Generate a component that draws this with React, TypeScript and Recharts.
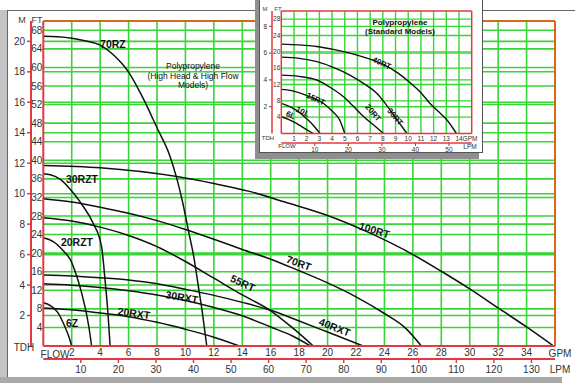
import React from 'react';
import {
  LineChart,
  Line,
  XAxis,
  YAxis,
  CartesianGrid,
  ReferenceLine,
  ReferenceDot,
} from 'recharts';

const FT_PER_M = 3.28084;
const LPM_PER_GPM = 3.78541;

const RED = '#e23a40';
const ORANGE = '#d8691c';
const GREEN = '#36d636';
const FONT = '"Liberation Sans", Arial, sans-serif';

// main chart axes
const gpmTicks = [2, 4, 6, 8, 10, 12, 14, 16, 18, 20, 22, 24, 26, 28, 30, 32, 34];
const lpmTicks = [10, 20, 30, 40, 50, 60, 70, 80, 90, 100, 110, 120, 130];
const ftTicks = [4, 8, 12, 16, 20, 24, 28, 32, 36, 40, 44, 48, 52, 56, 60, 64, 68];
const mTicks = [2, 4, 6, 8, 10, 12, 14, 16, 18, 20];

// main curves, [gpm, ft]
const rz70 = [[0, 66.7], [1, 66.6], [2, 66.3], [3, 65.7], [4, 64.8], [5, 62.5], [6, 59], [7, 53.5], [8, 47], [8.9, 41], [9.4, 36], [9.8, 31], [10.2, 25], [10.6, 19], [10.9, 13], [11.2, 7], [11.5, 0]];
const rt100 = [[0, 38.9], [4, 38.4], [9.4, 36.5], [12, 35], [14.5, 33.3], [17, 31], [20, 28.1], [23, 24.3], [26, 19.7], [28, 16.1], [30, 12.3], [32, 8.2], [34, 4.1], [35.9, 0]];
const rt70 = [[0, 31.7], [2, 31], [4, 29.9], [6, 28.6], [8, 27], [10, 25.1], [12, 23], [14, 20.8], [16, 18.7], [18, 16.2], [20, 13.6], [22, 10.6], [24, 7], [25.5, 3.8], [26.6, 0]];
const rt55 = [[0, 27.6], [2, 26.9], [4, 25.6], [6, 23.8], [8, 21.4], [10, 18.2], [12, 14.6], [14, 11], [15.9, 7.8], [17.5, 4], [19, 0]];
const rxt40 = [[0, 15.3], [2, 15.1], [4, 14.7], [6, 14.2], [8, 13.4], [10, 12.2], [12, 10.9], [14, 9.4], [16, 7.7], [18, 5.4], [20, 3], [22.5, 0]];
const rxt30 = [[0, 13.4], [2, 13.1], [4, 12.6], [6, 11.9], [8, 11], [10, 9.8], [12, 8.3], [14, 6.5], [16, 4.1], [17.5, 2.2], [18.8, 0]];
const rxt20 = [[0, 8.2], [2, 7.8], [4, 7.1], [6, 6.3], [8, 5.1], [10, 3.6], [12, 1.9], [13.8, 0]];
const rzt30 = [[0, 37.1], [0.5, 36.9], [1.2, 35.9], [2.1, 33], [2.8, 30.1], [3.5, 26.5], [4.1, 21.4], [4.35, 14], [4.55, 7], [4.7, 0]];
const rzt20 = [[0, 23.3], [0.7, 22.5], [1.5, 20.2], [1.9, 18.6], [2.3, 15.5], [2.7, 11.4], [3, 7.5], [3.2, 4.2], [3.4, 0]];
const z6 = [[0, 9.3], [0.5, 8.7], [1, 7.3], [1.5, 4.3], [1.8, 2], [2, 0]];

const mainCurves = [rz70, rt100, rt70, rt55, rxt40, rxt30, rxt20, rzt30, rzt20, z6];
const mainLabels = [
  { text: '70RZ', gpm: 4.9, ft: 65, angle: 0 },
  { text: '30RZT', gpm: 2.72, ft: 35.9, angle: 0 },
  { text: '20RZT', gpm: 2.37, ft: 22.3, angle: 0 },
  { text: '6Z', gpm: 2.02, ft: 5, angle: 0 },
  { text: '20RXT', gpm: 6.38, ft: 7.1, angle: 8 },
  { text: '30RXT', gpm: 9.75, ft: 10.6, angle: 10 },
  { text: '55RT', gpm: 14.04, ft: 13.6, angle: 25 },
  { text: '40RXT', gpm: 20.5, ft: 4.1, angle: 22 },
  { text: '70RT', gpm: 17.98, ft: 17.9, angle: 20 },
  { text: '100RT', gpm: 23.3, ft: 25, angle: 17 },
];

// inset (standard models)
const inGpmTicks = [1, 2, 3, 4, 5, 6, 7, 8, 9, 10, 11, 12, 13, 14];
const inLpmTicks = [10, 20, 30, 40, 50];
const inFtTicks = [4, 8, 12, 16, 20, 24, 28];
const inMTicks = [2, 4, 6, 8];

const rt40 = [[0, 21.9], [1.4, 21.7], [2.8, 21.3], [4.1, 20.6], [5.4, 19.7], [6.8, 18.4], [8.1, 16.8], [9.2, 14.8], [10.2, 12.3], [11, 10], [11.7, 7.4], [12.4, 5.3], [13.05, 3.3], [13.8, 0]];
const rt30 = [[0, 18.7], [1.4, 18.4], [2.8, 17.6], [4.1, 16.2], [5.4, 14.3], [6.5, 12.2], [7.5, 9.9], [8.2, 7.3], [8.85, 4.5], [9.9, 0]];
const rt20 = [[0, 14.3], [1.4, 14], [2.8, 13.1], [3.9, 11.2], [4.9, 9], [5.7, 6.6], [6.5, 4.1], [7.3, 2], [8.05, 0]];
const rt15 = [[0, 10.8], [0.8, 10.5], [1.5, 9.9], [2.4, 8.8], [3.3, 7.4], [4, 5.5], [4.6, 3.3], [5, 0]];
const l10 = [[0, 7.4], [0.8, 6.4], [1.5, 5], [2, 3.6], [2.5, 2.1], [3.05, 0]];
const l6 = [[0, 4.1], [0.6, 3.4], [1.2, 2.5], [1.8, 1.3], [2.5, 0]];

const insetCurves = [rt40, rt30, rt20, rt15, l10, l6];
const insetLabels = [
  { text: '40RT', gpm: 7.91, ft: 17.2, angle: 25 },
  { text: '30RT', gpm: 8.96, ft: 4.04, angle: 50 },
  { text: '20RT', gpm: 7.23, ft: 5.02, angle: 50 },
  { text: '15RT', gpm: 2.7, ft: 8.4, angle: 25 },
  { text: '10L', gpm: 1.68, ft: 5.3, angle: 25 },
  { text: '6L', gpm: 0.72, ft: 4.5, angle: 25 },
];

const toPts = (c: number[][]) => c.map(([gpm, ft]) => ({ gpm, ft }));
// span of the litre scale, so the LPM axis has something to measure
const lpmSpan = (maxGpm: number) => [
  { lpm: 0, ft: 0 },
  { lpm: maxGpm * LPM_PER_GPM, ft: 0 },
];

const curveLabel = (text: string, angle: number, size: number) => (p: any) => (
  <text
    x={p.cx}
    y={p.cy}
    transform={`rotate(${angle} ${p.cx} ${p.cy})`}
    textAnchor="middle"
    dominantBaseline="central"
    fontSize={size}
    fontWeight="bold"
    fontFamily={FONT}
    fill="#111"
  >
    {text}
  </text>
);

const tickStyle = (size: number) => ({ fontSize: size, fill: '#333', fontFamily: FONT });

function MainChart() {
  return (
    <LineChart
      width={575}
      height={383}
      margin={{ top: 21, right: 20, left: 0, bottom: 4 }}
      style={{ position: 'absolute', left: 0, top: 0 }}
    >
      <CartesianGrid xAxisId="gpm" yAxisId="ft" stroke={GREEN} strokeWidth={1.6} horizontalValues={ftTicks} verticalValues={gpmTicks} />
      <CartesianGrid xAxisId="gpm" yAxisId="m" stroke={GREEN} strokeWidth={1.6} vertical={false} horizontalValues={mTicks} />
      <XAxis
        xAxisId="gpm"
        dataKey="gpm"
        type="number"
        domain={[0, 36]}
        ticks={gpmTicks}
        interval={0}
        allowDataOverflow
        height={13}
        tickSize={0}
        tickMargin={3}
        tickLine={false}
        axisLine={{ stroke: RED, strokeWidth: 2 }}
        tick={tickStyle(10)}
      />
      <XAxis
        xAxisId="lpm"
        dataKey="lpm"
        type="number"
        domain={[0, 36 * LPM_PER_GPM]}
        ticks={lpmTicks}
        interval={0}
        allowDataOverflow
        height={20}
        tickSize={4}
        tickMargin={3}
        tickLine={{ stroke: RED, strokeWidth: 1.5 }}
        axisLine={{ stroke: RED, strokeWidth: 2 }}
        tick={tickStyle(10)}
      />
      <YAxis
        yAxisId="ft"
        type="number"
        domain={[0, 70]}
        ticks={ftTicks}
        interval={0}
        allowDataOverflow
        width={12.3}
        tickSize={0}
        tickMargin={1}
        tickLine={false}
        axisLine={{ stroke: RED, strokeWidth: 2 }}
        tick={tickStyle(10)}
      />
      <YAxis
        yAxisId="m"
        type="number"
        domain={[0, 70 / FT_PER_M]}
        ticks={mTicks}
        interval={0}
        allowDataOverflow
        width={31}
        tickSize={4}
        tickMargin={2}
        tickLine={{ stroke: RED, strokeWidth: 1.5 }}
        axisLine={{ stroke: RED, strokeWidth: 2 }}
        tick={tickStyle(10)}
      />
      <ReferenceLine xAxisId="gpm" yAxisId="ft" y={70} stroke={ORANGE} strokeWidth={2} />
      <ReferenceLine xAxisId="gpm" yAxisId="ft" x={36} stroke={ORANGE} strokeWidth={2} />
      <Line
        xAxisId="lpm"
        yAxisId="ft"
        data={lpmSpan(36)}
        dataKey="ft"
        stroke="none"
        dot={false}
        activeDot={false}
        legendType="none"
        isAnimationActive={false}
      />
      {mainCurves.map((c, i) => (
        <Line
          key={i}
          xAxisId="gpm"
          yAxisId="ft"
          data={toPts(c)}
          dataKey="ft"
          type="monotone"
          stroke="#111"
          strokeWidth={1.5}
          dot={false}
          activeDot={false}
          isAnimationActive={false}
        />
      ))}
      {mainLabels.map((l) => (
        <ReferenceDot
          key={l.text}
          xAxisId="gpm"
          yAxisId="ft"
          x={l.gpm}
          y={l.ft}
          r={0}
          shape={curveLabel(l.text, l.angle, 10.5)}
        />
      ))}
      <text x={193} y={69} textAnchor="middle" fontSize={8.5} fontFamily={FONT} fill="#111">
        <tspan x={193}>Polypropylene</tspan>
        <tspan x={193} dy={9.5}>(High Head &amp; High Flow</tspan>
        <tspan x={193} dy={9.5}>Models)</tspan>
      </text>
      <text x={22} y={23} textAnchor="middle" fontSize={9} fontFamily={FONT} fill="#444">M</text>
      <text x={37} y={23} textAnchor="middle" fontSize={9} fontFamily={FONT} fill="#444">FT</text>
      <text x={24} y={351} textAnchor="middle" fontSize={10} fontFamily={FONT} fill="#333">TDH</text>
      <text x={55} y={358} textAnchor="middle" fontSize={10} fontFamily={FONT} fill="#333">FLOW</text>
      <text x={560} y={357} textAnchor="middle" fontSize={10} fontFamily={FONT} fill="#333">GPM</text>
      <text x={560} y={373} textAnchor="middle" fontSize={10} fontFamily={FONT} fill="#333">LPM</text>
    </LineChart>
  );
}

function InsetChart() {
  return (
    <LineChart width={224} height={153} margin={{ top: 11, right: 11.3, left: 0, bottom: 0 }}>
      <CartesianGrid xAxisId="gpm" yAxisId="ft" stroke={GREEN} strokeWidth={1.4} horizontalValues={inFtTicks} verticalValues={inGpmTicks} />
      <CartesianGrid xAxisId="gpm" yAxisId="m" stroke={GREEN} strokeWidth={1.4} vertical={false} horizontalValues={inMTicks} />
      <XAxis
        xAxisId="gpm"
        dataKey="gpm"
        type="number"
        domain={[0, 15]}
        ticks={inGpmTicks}
        interval={0}
        allowDataOverflow
        height={9.5}
        tickSize={0}
        tickMargin={2.5}
        tickLine={false}
        axisLine={{ stroke: RED, strokeWidth: 1.5 }}
        tick={tickStyle(6.5)}
      />
      <XAxis
        xAxisId="lpm"
        dataKey="lpm"
        type="number"
        domain={[0, 15 * LPM_PER_GPM]}
        ticks={inLpmTicks}
        interval={0}
        allowDataOverflow
        height={10}
        tickSize={3}
        tickMargin={1.5}
        tickLine={{ stroke: RED, strokeWidth: 1.2 }}
        axisLine={{ stroke: RED, strokeWidth: 1.5 }}
        tick={tickStyle(6.5)}
      />
      <YAxis
        yAxisId="ft"
        type="number"
        domain={[0, 30]}
        ticks={inFtTicks}
        interval={0}
        allowDataOverflow
        width={9.3}
        tickSize={0}
        tickMargin={1}
        tickLine={false}
        axisLine={{ stroke: RED, strokeWidth: 1.5 }}
        tick={tickStyle(6.5)}
      />
      <YAxis
        yAxisId="m"
        type="number"
        domain={[0, 30 / FT_PER_M]}
        ticks={inMTicks}
        interval={0}
        allowDataOverflow
        width={13}
        tickSize={3}
        tickMargin={2}
        tickLine={{ stroke: RED, strokeWidth: 1.2 }}
        axisLine={{ stroke: RED, strokeWidth: 1.5 }}
        tick={tickStyle(6.5)}
      />
      <ReferenceLine xAxisId="gpm" yAxisId="ft" y={30} stroke={RED} strokeWidth={1.5} />
      <ReferenceLine xAxisId="gpm" yAxisId="ft" x={15} stroke={RED} strokeWidth={1.5} />
      <Line
        xAxisId="lpm"
        yAxisId="ft"
        data={lpmSpan(15)}
        dataKey="ft"
        stroke="none"
        dot={false}
        activeDot={false}
        legendType="none"
        isAnimationActive={false}
      />
      {insetCurves.map((c, i) => (
        <Line
          key={i}
          xAxisId="gpm"
          yAxisId="ft"
          data={toPts(c)}
          dataKey="ft"
          type="monotone"
          stroke="#111"
          strokeWidth={1.4}
          dot={false}
          activeDot={false}
          isAnimationActive={false}
        />
      ))}
      {insetLabels.map((l) => (
        <ReferenceDot
          key={l.text}
          xAxisId="gpm"
          yAxisId="ft"
          x={l.gpm}
          y={l.ft}
          r={0}
          shape={curveLabel(l.text, l.angle, 8)}
        />
      ))}
      <text x={141} y={25} textAnchor="middle" fontSize={8} fontWeight="bold" fontFamily={FONT} fill="#111">
        <tspan x={141}>Polypropylene</tspan>
        <tspan x={141} dy={9}>(Standard Models)</tspan>
      </text>
      <text x={6} y={11} textAnchor="middle" fontSize={6} fontFamily={FONT} fill="#444">M</text>
      <text x={19} y={11} textAnchor="middle" fontSize={6} fontFamily={FONT} fill="#444">FT</text>
      <text x={9} y={140} textAnchor="middle" fontSize={6} fontFamily={FONT} fill="#333">TDH</text>
      <text x={28} y={148} textAnchor="middle" fontSize={6} fontFamily={FONT} fill="#333">FLOW</text>
      <text x={211} y={141} textAnchor="middle" fontSize={6.5} fontFamily={FONT} fill="#333">GPM</text>
      <text x={211} y={149} textAnchor="middle" fontSize={6.5} fontFamily={FONT} fill="#333">LPM</text>
    </LineChart>
  );
}

export default function App() {
  return (
    <div style={{ position: 'absolute', left: 0, top: 0, width: 575, height: 383, background: '#fff', overflow: 'hidden' }}>
      {/* window frame */}
      <div style={{ position: 'absolute', left: 0, top: 10, width: 7, height: 373, background: '#c4c4c4' }} />
      <div style={{ position: 'absolute', left: 0, top: 377, width: 562, height: 6, background: '#a9a9a9' }} />
      <div style={{ position: 'absolute', left: 7, top: 10, width: 568, height: 1, background: '#666' }} />
      <div style={{ position: 'absolute', left: 7, top: 10, width: 1, height: 367, background: '#666' }} />
      <MainChart />
      {/* inset panel with shadow */}
      <div style={{ position: 'absolute', left: 255, top: 0, width: 224, height: 159, background: '#8e8e8e' }} />
      <div
        style={{
          position: 'absolute',
          left: 259,
          top: 0,
          width: 224,
          height: 153,
          background: '#fff',
          boxSizing: 'border-box',
          borderLeft: '1px solid #555',
          borderRight: '1px solid #555',
          borderBottom: '1px solid #555',
        }}
      >
        <div style={{ position: 'absolute', left: -1, top: 0 }}>
          <InsetChart />
        </div>
      </div>
    </div>
  );
}
